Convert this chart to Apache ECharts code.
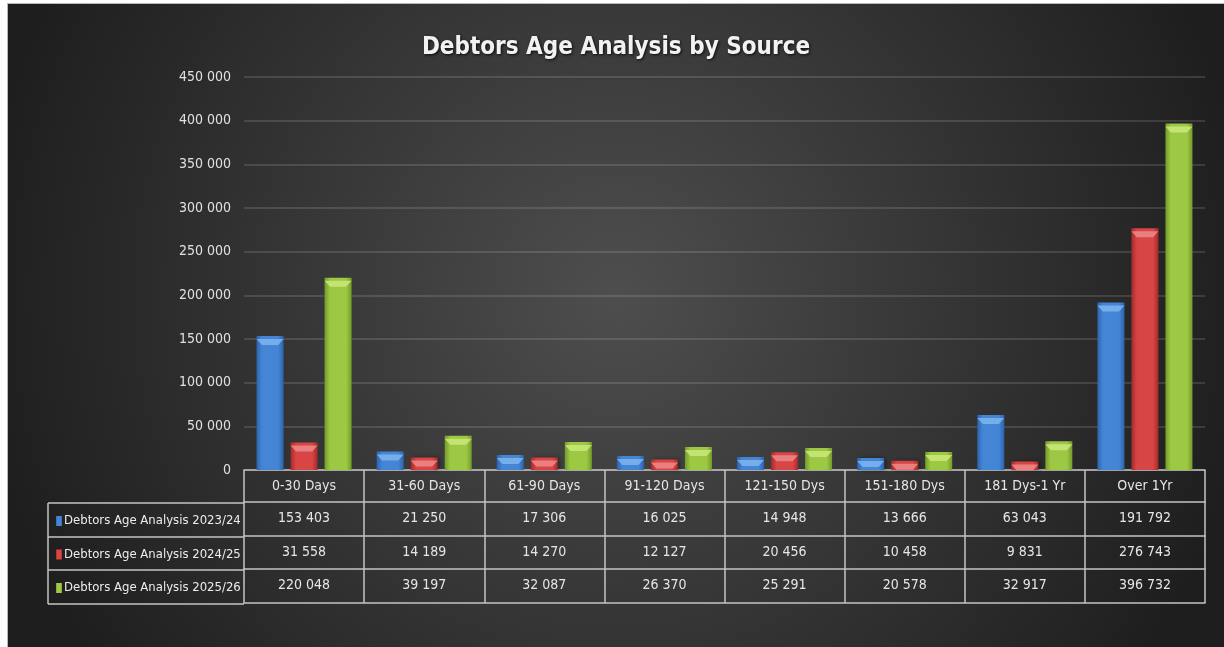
<!DOCTYPE html>
<html>
<head>
<meta charset="utf-8">
<script src="https://cdn.jsdelivr.net/npm/echarts@6/dist/echarts.min.js"></script>
<style>
  html, body { margin: 0; padding: 0; background: #fff; }
  #container { position: absolute; left: 7px; top: 3px; width: 1217px; height: 644px;
               border-top: 1px solid #b8b8b8; border-left: 1px solid #b8b8b8; box-sizing: border-box; }
</style>
</head>
<body>
<div id="container"></div>
<script>
var categories = ['0-30 Days', '31-60 Days', '61-90 Days', '91-120 Days', '121-150 Dys', '151-180 Dys', '181 Dys-1 Yr', 'Over 1Yr'];
var seriesNames = ['Debtors Age Analysis 2023/24', 'Debtors Age Analysis 2024/25', 'Debtors Age Analysis 2025/26'];
var values2324 = [153403, 21250, 17306, 16025, 14948, 13666, 63043, 191792];
var values2425 = [31558, 14189, 14270, 12127, 20456, 10458, 9831, 276743];
var values2526 = [220048, 39197, 32087, 26370, 25291, 20578, 32917, 396732];
var allValues = [values2324, values2425, values2526];

var font = "'Liberation Sans Narrow', 'DejaVu Sans Condensed', 'Roboto', sans-serif";
var lineCol = '#c4c4c4';

// layout
var gridLeft = 236, gridRight = 19, gridTop = 73, gridBottom = 177;
var chartH = 644;
var axisY = chartH - gridBottom;   // y of the zero line
var rowOffsets = [32, 66, 99, 133]; // table row lines below the axis

function fmt(v) {
    return String(v).replace(/\B(?=(\d{3})+(?!\d))/g, ' ');
}

var baseCols = [
    ['#4585d6', '#2d64ad'],
    ['#d84545', '#a52a2a'],
    ['#9cc843', '#739c2b']
];
var capCols = ['#7fb4ee', '#ee8a8a', '#cde77a'];

var dom = document.getElementById('container');
var myChart = echarts.init(dom);

var xAxes = [{
    type: 'category',
    data: categories,
    position: 'bottom',
    axisLine: { show: true, lineStyle: { color: lineCol, width: 1.5 } },
    axisTick: { show: true, interval: 0, length: rowOffsets[3], lineStyle: { color: lineCol, width: 1.5 } },
    axisLabel: { color: '#e6e6e6', fontSize: 14, fontFamily: font, margin: 9, interval: 0 }
}];
rowOffsets.forEach(function (off, k) {
    xAxes.push({
        type: 'category',
        data: categories,
        position: 'bottom',
        offset: off,
        axisLine: { show: true, lineStyle: { color: lineCol, width: 1.5 } },
        axisTick: { show: false },
        axisLabel: {
            show: k < 3,
            interval: 0,
            color: '#e6e6e6', fontSize: 14, fontFamily: font, margin: 9,
            formatter: function (val, idx) { return k < 3 ? fmt(allValues[k][idx]) : ''; }
        }
    });
});

var series = [];
allValues.forEach(function (vals, i) {
    series.push({
        name: seriesNames[i],
        type: 'bar',
        data: vals,
        barWidth: 27,
        barGap: '26%',
        itemStyle: {
            color: new echarts.graphic.LinearGradient(0, 0, 1, 0, [
                { offset: 0, color: baseCols[i][1] },
                { offset: 0.2, color: baseCols[i][0] },
                { offset: 0.8, color: baseCols[i][0] },
                { offset: 1, color: baseCols[i][1] }
            ]),
            shadowColor: 'rgba(0,0,0,0.4)', shadowBlur: 4, shadowOffsetX: 2
        }
    });
});
allValues.forEach(function (vals, i) {
    series.push({
        name: 'cap' + i,
        type: 'pictorialBar',
        data: vals,
        barWidth: 27,
        barGap: '26%',
        symbol: 'path://M0,0 L20,0 L16,5 L4,5 Z',
        symbolSize: [27, 6],
        symbolPosition: 'end',
        symbolOffset: [0, '50%'],
        itemStyle: { color: capCols[i], opacity: 0.85 },
        silent: true,
        z: 3
    });
});

// legend column frame (left of the grid)
var rowYs = [axisY + rowOffsets[0], axisY + rowOffsets[1], axisY + rowOffsets[2], axisY + rowOffsets[3]];
var legendLeftX = 40;
var frame = rowYs.map(function (y) {
    return { type: 'line', shape: { x1: legendLeftX, y1: y, x2: gridLeft, y2: y }, style: { stroke: lineCol, lineWidth: 1.5 } };
});
frame.push({ type: 'line', shape: { x1: legendLeftX, y1: rowYs[0], x2: legendLeftX, y2: rowYs[3] }, style: { stroke: lineCol, lineWidth: 1.5 } });

option = {
    backgroundColor: {
        type: 'radial', x: 0.5, y: 0.45, r: 1,
        colorStops: [{ offset: 0, color: '#4e4e4e' }, { offset: 1, color: '#1e1e1e' }]
    },
    title: {
        text: 'Debtors Age Analysis by Source',
        left: 'center',
        top: 27,
        textStyle: {
            color: '#f2f2f2', fontSize: 24, fontWeight: 'bold', fontFamily: font,
            textShadowColor: 'rgba(0,0,0,0.8)', textShadowBlur: 3, textShadowOffsetX: 1, textShadowOffsetY: 1
        }
    },
    legend: {
        data: seriesNames,
        orient: 'vertical',
        left: legendLeftX + 3,
        top: rowYs[0] + 3,
        itemWidth: 6,
        itemHeight: 10,
        itemGap: 13.5,
        icon: 'rect',
        selectedMode: false,
        textStyle: { color: '#ececec', fontSize: 13, fontFamily: font, lineHeight: 20, padding: [0, 0, 0, -3] }
    },
    grid: { left: gridLeft, right: gridRight, top: gridTop, bottom: gridBottom, containLabel: false },
    xAxis: xAxes,
    yAxis: {
        type: 'value',
        min: 0, max: 450000, interval: 50000,
        axisLine: { show: false },
        axisTick: { show: false },
        axisLabel: { color: '#e0e0e0', fontSize: 14, fontFamily: font, margin: 13, formatter: fmt },
        splitLine: { lineStyle: { color: 'rgba(255,255,255,0.17)', width: 1.5 } }
    },
    graphic: frame,
    series: series
};

if (option && typeof option === 'object') {
    myChart.setOption(option, true);
}
</script>
</body>
</html>
